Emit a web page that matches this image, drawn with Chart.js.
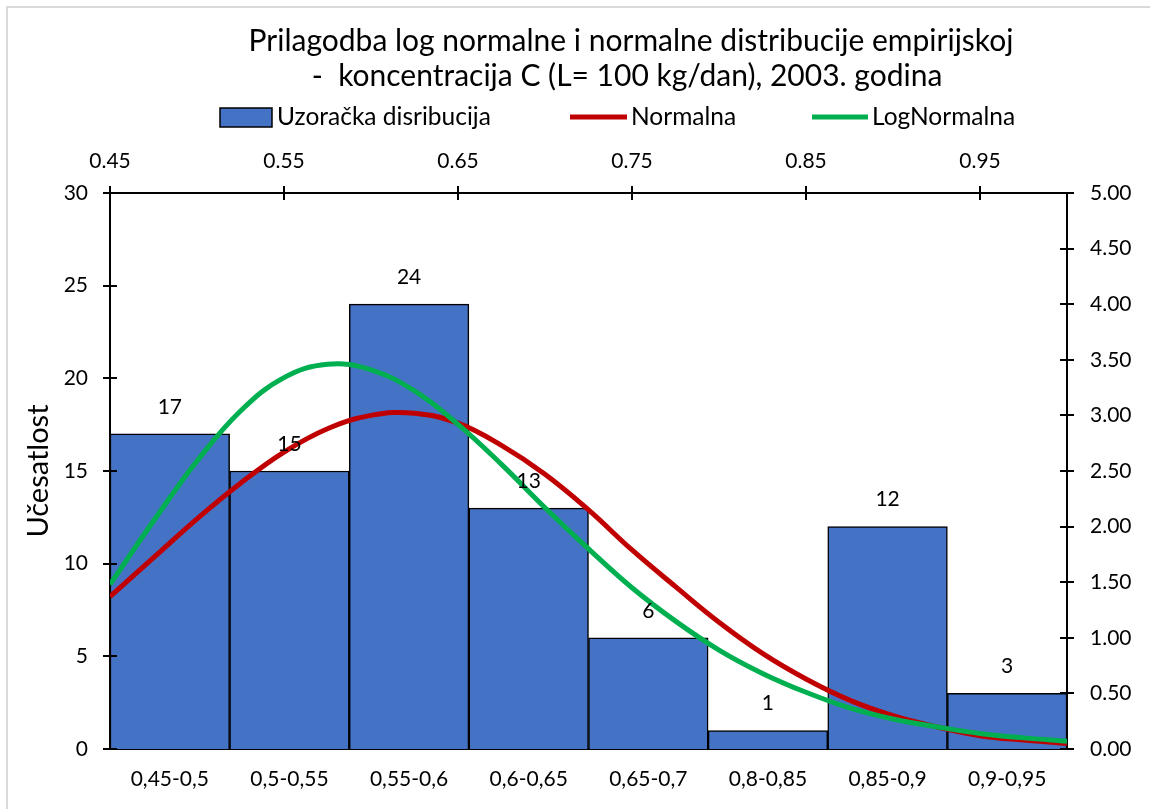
<!DOCTYPE html>
<html>
<head>
<meta charset="utf-8">
<script src="https://cdn.jsdelivr.net/npm/chart.js@4.4.0/dist/chart.umd.min.js"></script>
<style>
  html, body { margin: 0; padding: 0; background: #fff; }
  #wrap { width: 1150px; height: 809px; position: relative; }
</style>
</head>
<body>
<div id="wrap"><canvas id="c" width="1150" height="809"></canvas></div>
<script>
// ---- data ----
const categories = ['0,45-0,5','0,5-0,55','0,55-0,6','0,6-0,65','0,65-0,7','0,8-0,85','0,85-0,9','0,9-0,95'];
const frequencies = [17, 15, 24, 13, 6, 1, 12, 3];
const curveX = [0.45,0.475,0.5,0.525,0.55,0.575,0.6,0.625,0.65,0.675,0.7,0.725,0.75,0.775,0.8,0.825,0.85,0.875,0.9,0.925,0.95,0.975,1.0];
const normalValues = [1.37,1.72,2.07,2.39,2.67,2.88,3.00,3.02,2.93,2.73,2.47,2.15,1.79,1.46,1.14,0.86,0.63,0.44,0.30,0.20,0.12,0.08,0.05];
const logNormalValues = [1.48,2.05,2.59,3.04,3.34,3.46,3.41,3.22,2.92,2.56,2.17,1.80,1.45,1.15,0.89,0.68,0.51,0.37,0.27,0.20,0.14,0.10,0.07];
const topTickValues = [0.45,0.55,0.65,0.75,0.85,0.95];
const leftTickValues = [0,5,10,15,20,25,30];
const rightTickValues = [0,0.5,1,1.5,2,2.5,3,3.5,4,4.5,5];
const titleLines = ['Prilagodba log normalne i normalne distribucije empirijskoj', '-  koncentracija C (L= 100 kg/dan), 2003. godina'];
const legendLabels = ['Uzoračka disribucija', 'Normalna', 'LogNormalna'];
const yTitle = 'Učesatlost';

const FONT = 'Lato, "Open Sans", sans-serif';
const BAR_COLOR = '#4472C4';
const RED = '#C00000';
const GREEN = '#00B050';

const decorPlugin = {
  id: 'decor',
  beforeDraw(chart) {
    const ctx = chart.ctx;
    ctx.save();
    ctx.fillStyle = '#fff';
    ctx.fillRect(0, 0, chart.width, chart.height);
    ctx.strokeStyle = '#d9d9d9';
    ctx.lineWidth = 2;
    ctx.beginPath();
    ctx.moveTo(7, chart.height);
    ctx.lineTo(7, 7);
    ctx.lineTo(chart.width, 7);
    ctx.stroke();
    ctx.restore();
  },
  afterDatasetsDraw(chart) {
    const ctx = chart.ctx;
    ctx.save();
    const meta = chart.getDatasetMeta(0);
    ctx.fillStyle = '#000';
    ctx.font = '21px ' + FONT;
    ctx.textAlign = 'center';
    ctx.textBaseline = 'middle';
    meta.data.forEach((el, i) => {
      ctx.fillText(String(frequencies[i]), el.x, el.y - 27);
    });
    ctx.restore();
  },
  afterDraw(chart) {
    const ctx = chart.ctx;
    const s = chart.scales;
    const ca = chart.chartArea;
    ctx.save();
    ctx.strokeStyle = '#000';
    ctx.lineWidth = 2;
    ctx.beginPath();
    leftTickValues.forEach(v => {
      const y = Math.round(s.y.getPixelForValue(v));
      ctx.moveTo(ca.left - 7, y); ctx.lineTo(ca.left + 7, y);
    });
    rightTickValues.forEach(v => {
      const y = Math.round(s.y2.getPixelForValue(v));
      ctx.moveTo(ca.right - 7, y); ctx.lineTo(ca.right + 7, y);
    });
    topTickValues.forEach(v => {
      const x = Math.round(s.x2.getPixelForValue(v));
      ctx.moveTo(x, ca.top - 7); ctx.lineTo(x, ca.top + 7);
    });
    ctx.stroke();

    // title
    ctx.fillStyle = '#000';
    ctx.textAlign = 'center';
    ctx.textBaseline = 'middle';
    ctx.font = '30px ' + FONT;
    ctx.fillText(titleLines[0], 631, 41);
    ctx.fillText(titleLines[1], 627, 76);

    // legend
    ctx.font = '24.5px ' + FONT;
    ctx.textAlign = 'left';
    const ly = 117;
    ctx.fillStyle = BAR_COLOR;
    ctx.fillRect(220, 108, 52, 19);
    ctx.lineWidth = 1.5;
    ctx.strokeStyle = '#000';
    ctx.strokeRect(220, 108, 52, 19);
    ctx.fillStyle = '#000';
    ctx.fillText(legendLabels[0], 277, ly);
    ctx.lineWidth = 5;
    ctx.strokeStyle = RED;
    ctx.beginPath(); ctx.moveTo(570, ly); ctx.lineTo(627, ly); ctx.stroke();
    ctx.fillText(legendLabels[1], 631, ly);
    ctx.strokeStyle = GREEN;
    ctx.beginPath(); ctx.moveTo(812, ly); ctx.lineTo(868, ly); ctx.stroke();
    ctx.fillText(legendLabels[2], 872, ly);
    ctx.restore();
  }
};

const tickFont = { family: FONT, size: 21 };

new Chart(document.getElementById('c'), {
  type: 'bar',
  data: {
    labels: categories,
    datasets: [
      {
        label: legendLabels[0],
        data: frequencies,
        backgroundColor: BAR_COLOR,
        borderColor: '#000',
        borderWidth: 1.5,
        barPercentage: 1,
        categoryPercentage: 1,
        grouped: false,
        xAxisID: 'x',
        yAxisID: 'y',
        order: 3
      },
      {
        type: 'line',
        label: legendLabels[1],
        data: curveX.map((x, i) => ({ x: x, y: normalValues[i] })),
        borderColor: RED,
        backgroundColor: RED,
        borderWidth: 5,
        pointRadius: 0,
        tension: 0.4,
        fill: false,
        xAxisID: 'x2',
        yAxisID: 'y2',
        order: 2
      },
      {
        type: 'line',
        label: legendLabels[2],
        data: curveX.map((x, i) => ({ x: x, y: logNormalValues[i] })),
        borderColor: GREEN,
        backgroundColor: GREEN,
        borderWidth: 5,
        pointRadius: 0,
        tension: 0.4,
        fill: false,
        xAxisID: 'x2',
        yAxisID: 'y2',
        order: 1
      }
    ]
  },
  options: {
    responsive: false,
    animation: false,
    devicePixelRatio: 1,
    layout: { padding: 0 },
    plugins: {
      legend: { display: false },
      title: { display: false },
      tooltip: { enabled: false }
    },
    scales: {
      x: {
        type: 'category',
        position: 'bottom',
        offset: true,
        grid: { display: false, drawTicks: false },
        border: { display: true, color: '#000', width: 2 },
        ticks: { color: '#000', font: tickFont, padding: 18, maxRotation: 0, autoSkip: false },
        afterFit(s) { s.height = 60; }
      },
      x2: {
        type: 'linear',
        position: 'top',
        offset: false,
        min: 0.45,
        max: 1.0,
        grid: { display: false, drawTicks: false, offset: false },
        border: { display: true, color: '#000', width: 2 },
        afterBuildTicks(s) { s.ticks = topTickValues.map(v => ({ value: v })); },
        ticks: { color: '#000', font: tickFont, padding: 19, maxRotation: 0, callback: v => Number(v).toFixed(2) },
        afterFit(s) { s.height = 193; }
      },
      y: {
        type: 'linear',
        position: 'left',
        min: 0,
        max: 30,
        grid: { display: false, drawTicks: false },
        border: { display: true, color: '#000', width: 2 },
        ticks: { color: '#000', font: tickFont, stepSize: 5, padding: 22 },
        title: { display: true, text: yTitle, color: '#000', font: { family: FONT, size: 29 }, padding: { top: 21, bottom: 0 } },
        afterFit(s) { s.width = 110; }
      },
      y2: {
        type: 'linear',
        position: 'right',
        min: 0,
        max: 5,
        grid: { display: false, drawTicks: false },
        border: { display: true, color: '#000', width: 2 },
        ticks: { color: '#000', font: tickFont, stepSize: 0.5, padding: 23, callback: v => Number(v).toFixed(2) },
        afterFit(s) { s.width = 83; }
      }
    }
  },
  plugins: [decorPlugin]
});
</script>
</body>
</html>
